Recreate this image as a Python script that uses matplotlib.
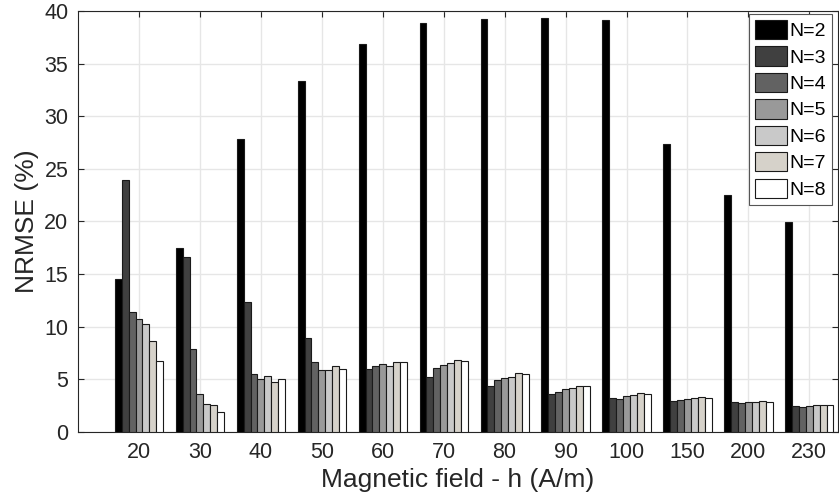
import matplotlib
matplotlib.use("Agg")
import matplotlib.pyplot as plt
import numpy as np

plt.rcParams['font.family'] = ['Liberation Sans', 'DejaVu Sans']

# magnetic field categories (A/m)
fields = ["20", "30", "40", "50", "60", "70", "80", "90", "100", "150", "200", "230"]
series_labels = ["N=2", "N=3", "N=4", "N=5", "N=6", "N=7", "N=8"]

# NRMSE (%) per N
n2 = [14.5, 17.45, 27.84, 33.35, 36.9, 38.86, 39.24, 39.33, 39.15, 27.4, 22.5, 19.95]
n3 = [23.9, 16.6, 12.38, 8.93, 5.95, 5.23, 4.4, 3.61, 3.23, 2.91, 2.88, 2.44]
n4 = [11.37, 7.85, 5.54, 6.62, 6.24, 6.08, 4.91, 3.77, 3.17, 3.04, 2.76, 2.41]
n5 = [10.74, 3.64, 5.04, 5.86, 6.43, 6.4, 5.16, 4.05, 3.39, 3.1, 2.82, 2.47]
n6 = [10.3, 2.63, 5.29, 5.92, 6.24, 6.59, 5.26, 4.21, 3.55, 3.2, 2.85, 2.53]
n7 = [8.68, 2.53, 4.78, 6.24, 6.62, 6.81, 5.57, 4.4, 3.67, 3.29, 2.91, 2.56]
n8 = [6.78, 1.93, 5.0, 5.99, 6.62, 6.78, 5.48, 4.37, 3.64, 3.26, 2.88, 2.56]

all_series = [n2, n3, n4, n5, n6, n7, n8]
colors = ["#000000", "#404040", "#626262", "#999999", "#c9c9c9", "#d6d2ca", "#ffffff"]

text_color = "#262626"

fig = plt.figure(figsize=(8.39, 5.04), dpi=100)
ax = fig.add_axes([78 / 839, 72 / 504, 760 / 839, 421 / 504])

x = np.arange(1, len(fields) + 1)
bar_w = 0.113
for i, (vals, lab, col) in enumerate(zip(all_series, series_labels, colors)):
    ax.bar(x + (i - 3) * bar_w, vals, width=bar_w, color=col,
           edgecolor="#1a1a1a", linewidth=0.8, label=lab, zorder=3)

ax.set_xlim(0, 12.47)
ax.set_ylim(0, 40)
ax.set_xticks(x)
ax.set_xticklabels(fields)
ax.set_yticks(np.arange(0, 41, 5))

ax.grid(True, color="#e6e6e6", linewidth=1.0, zorder=0)
ax.set_axisbelow(True)
ax.tick_params(direction="in", top=True, right=True, length=4,
               labelsize=15.5, colors=text_color, pad=7)
for sp in ax.spines.values():
    sp.set_color(text_color)
    sp.set_linewidth(0.8)

ax.set_xlabel("Magnetic field - h (A/m)", fontsize=19, color=text_color, labelpad=4)
ax.set_ylabel("NRMSE (%)", fontsize=19, color=text_color, labelpad=4)

# legend box: roughly x 747-832, y 14-200 px in the figure
leg = ax.legend(loc="upper right", bbox_to_anchor=(832 / 839, 1 - 14 / 504),
                bbox_transform=fig.transFigure, borderaxespad=0,
                fontsize=14, fancybox=False, framealpha=1,
                edgecolor="#555555", handlelength=1.65, handleheight=1.15,
                handletextpad=0.15, labelspacing=0.32, borderpad=0.3)
leg.get_frame().set_linewidth(0.8)

fig.savefig("out.png", dpi=100)
